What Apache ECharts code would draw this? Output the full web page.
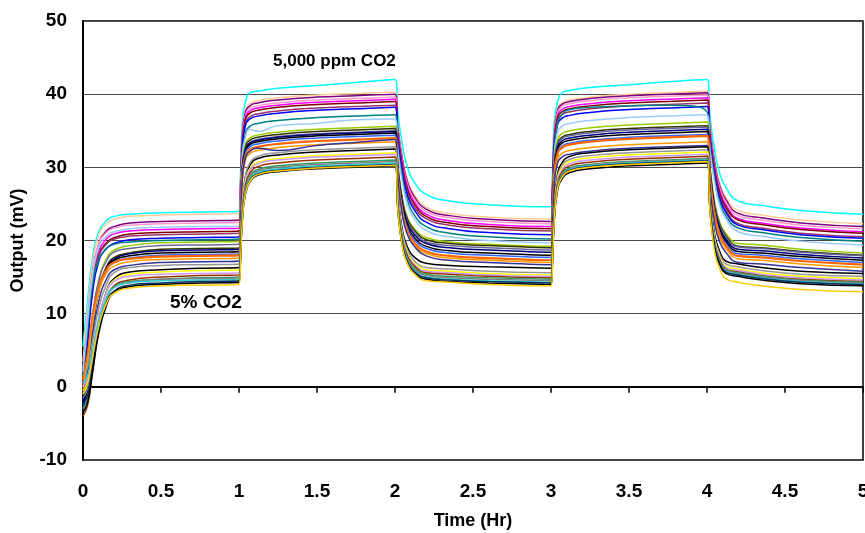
<!DOCTYPE html>
<html>
<head>
<meta charset="utf-8">
<script src="https://cdn.jsdelivr.net/npm/echarts/dist/echarts.min.js"></script>
<style>
  html, body { margin: 0; padding: 0; background: #fff; }
  #lineChart { width: 865px; height: 533px; }
</style>
</head>
<body>
<div id="lineChart"></div>
<script>
// sample times (hours), shared by all sensors
const hours = [0, 0.03, 0.06, 0.1, 0.15, 0.2, 0.3, 0.5, 0.75, 1.0,
  1.01, 1.02, 1.04, 1.07, 1.12, 1.25, 1.5, 1.75, 2.0,
  2.02, 2.05, 2.08, 2.12, 2.2, 2.35, 2.6, 3.0,
  3.01, 3.02, 3.04, 3.07, 3.12, 3.25, 3.5, 3.75, 4.0,
  4.02, 4.05, 4.08, 4.12, 4.2, 4.35, 4.6, 5.0]

// sensor outputs (mV)
const s01 = [5.5, 12.0, 17.5, 21.2, 22.7, 23.3, 23.6, 23.8, 23.9, 24.0,
  29.4, 35.7, 38.8, 40.2, 40.4, 40.8, 41.2, 41.6, 42.0,
  37.1, 32.8, 30.0, 28.1, 26.3, 25.4, 24.9, 24.6,
  29.8, 35.9, 38.8, 40.2, 40.5, 40.9, 41.3, 41.7, 42.0,
  36.8, 32.2, 29.3, 27.3, 25.4, 24.8, 24.1, 23.6]
const s02 = [3.5, 10.6, 16.6, 20.7, 22.3, 22.9, 23.3, 23.5, 23.6, 23.7,
  28.7, 34.5, 37.7, 38.7, 39.1, 39.5, 39.9, 40.1, 40.3,
  35.4, 31.1, 28.3, 26.4, 24.6, 23.7, 23.2, 22.9,
  28.2, 34.3, 37.8, 38.8, 39.2, 39.6, 40.0, 40.2, 40.4,
  35.3, 30.8, 27.9, 25.9, 24.1, 23.5, 22.8, 22.3]
const s03 = [1.0, 8.6, 15.2, 19.5, 21.3, 21.9, 22.4, 22.6, 22.7, 22.8,
  28.0, 34.0, 37.4, 38.4, 38.8, 39.2, 39.6, 39.8, 40.0,
  35.1, 30.8, 28.0, 26.1, 24.3, 23.4, 22.9, 22.6,
  27.9, 34.0, 37.6, 38.6, 39.0, 39.4, 39.8, 40.0, 40.2,
  35.1, 30.5, 27.6, 25.6, 23.7, 23.1, 22.4, 21.9]
const s04 = [2.5, 9.5, 15.5, 19.5, 21.1, 21.7, 22.1, 22.3, 22.4, 22.5,
  27.6, 33.6, 37.0, 38.0, 38.4, 38.8, 39.2, 39.4, 39.6,
  34.8, 30.4, 27.7, 25.8, 24.0, 23.1, 22.6, 22.3,
  27.6, 33.7, 37.3, 38.3, 38.7, 39.1, 39.5, 39.7, 39.9,
  34.8, 30.2, 27.3, 25.3, 23.4, 22.8, 22.1, 21.6]
const s05 = [0.5, 7.9, 14.3, 18.5, 20.2, 20.9, 21.3, 21.5, 21.6, 21.7,
  27.0, 33.1, 36.7, 37.7, 38.1, 38.5, 38.9, 39.1, 39.3,
  34.4, 30.1, 27.3, 25.4, 23.6, 22.7, 22.2, 21.9,
  27.2, 33.3, 36.9, 37.9, 38.3, 38.7, 39.1, 39.3, 39.5,
  34.4, 29.8, 26.9, 24.9, 23.0, 22.4, 21.7, 21.2]
const s06 = [-1.0, 6.8, 13.5, 18.0, 19.7, 20.4, 20.9, 21.1, 21.2, 21.3,
  26.6, 32.8, 36.4, 37.4, 37.8, 38.2, 38.6, 38.8, 39.0,
  34.1, 29.8, 27.0, 25.1, 23.3, 22.4, 21.9, 21.6,
  26.9, 33.0, 36.6, 37.6, 38.0, 38.4, 38.8, 39.0, 39.2,
  34.1, 29.6, 26.6, 24.6, 22.8, 22.2, 21.5, 21.0]
const s07 = [0.0, 7.4, 13.7, 17.9, 19.5, 20.2, 20.6, 20.8, 20.9, 21.0,
  26.3, 32.4, 35.9, 36.9, 37.3, 37.7, 38.1, 38.3, 38.5,
  33.7, 29.4, 26.6, 24.7, 23.0, 22.1, 21.6, 21.3,
  26.6, 32.7, 36.2, 37.2, 37.6, 38.0, 38.4, 38.6, 38.8,
  33.7, 29.1, 26.2, 24.2, 22.3, 21.7, 21.0, 20.5]
const s08 = [-2.0, 5.9, 12.6, 17.1, 18.9, 19.6, 20.1, 20.3, 20.4, 20.5,
  25.8, 32.0, 35.6, 36.6, 37.0, 37.4, 37.8, 38.0, 38.2,
  33.3, 29.0, 26.2, 24.3, 22.5, 21.6, 21.1, 20.8,
  26.1, 32.2, 35.7, 36.7, 37.1, 37.5, 37.9, 38.1, 38.3,
  33.3, 28.8, 25.9, 23.9, 22.1, 21.5, 20.8, 20.3]
const s09 = [1.5, 8.0, 13.7, 17.4, 18.9, 19.5, 19.8, 20.0, 20.1, 20.2,
  25.3, 31.3, 34.6, 35.6, 36.0, 36.4, 36.8, 37.0, 37.2,
  32.4, 28.2, 25.5, 23.6, 21.9, 21.0, 20.5, 20.2,
  25.4, 31.5, 35.8, 37.2, 37.9, 38.2, 38.4, 38.5, 37.6,
  32.6, 28.2, 25.4, 23.4, 21.7, 21.1, 20.4, 19.9]
const s10 = [2.0, 9.0, 15.0, 19.0, 20.6, 21.2, 21.6, 21.8, 21.9, 22.0,
  26.4, 31.5, 34.0, 35.2, 34.9, 35.7, 36.0, 36.5, 36.6,
  31.9, 27.6, 24.9, 23.1, 21.4, 20.5, 20.0, 19.7,
  25.0, 31.1, 34.6, 35.6, 36.0, 36.4, 36.8, 37.0, 37.2,
  32.2, 27.8, 24.9, 23.0, 21.2, 20.6, 19.9, 19.4]
const s11 = [-0.5, 3.6, 9.3, 14.4, 17.5, 18.7, 19.3, 19.7, 19.8, 19.9,
  24.6, 30.1, 33.0, 34.0, 34.4, 34.8, 35.2, 35.4, 35.6,
  30.0, 25.4, 23.1, 21.7, 20.4, 19.8, 19.5, 19.2,
  24.3, 30.3, 33.6, 34.6, 35.0, 35.4, 35.8, 36.0, 36.2,
  30.1, 25.1, 22.6, 21.0, 19.6, 19.4, 18.8, 18.3]
const s12 = [-3.0, 1.4, 7.6, 13.1, 16.4, 17.7, 18.3, 18.8, 18.9, 19.0,
  23.9, 29.6, 32.7, 33.7, 34.1, 34.5, 34.9, 35.1, 35.3,
  29.8, 25.2, 22.9, 21.5, 20.1, 19.6, 19.3, 19.0,
  24.0, 29.9, 33.1, 34.1, 34.5, 34.9, 35.3, 35.5, 35.7,
  29.7, 24.7, 22.3, 20.7, 19.2, 19.0, 18.5, 18.0]
const s13 = [0.5, 4.3, 9.6, 14.4, 17.2, 18.4, 18.9, 19.3, 19.4, 19.5,
  24.2, 29.6, 32.4, 33.4, 33.8, 34.2, 34.6, 34.8, 35.0,
  29.5, 24.9, 22.6, 21.2, 19.8, 19.3, 19.0, 18.7,
  23.7, 29.6, 32.9, 33.9, 34.3, 34.7, 35.1, 35.3, 35.5,
  29.5, 24.6, 22.1, 20.5, 19.1, 18.9, 18.4, 17.9]
const s14 = [-2.5, 1.8, 7.7, 13.1, 16.2, 17.5, 18.2, 18.6, 18.7, 18.8,
  23.6, 29.3, 32.3, 33.3, 33.7, 34.1, 34.5, 34.7, 34.9,
  29.3, 24.7, 22.4, 20.9, 19.6, 19.0, 18.7, 18.4,
  23.4, 29.3, 32.6, 33.6, 34.0, 34.4, 34.8, 35.0, 35.2,
  29.2, 24.3, 21.8, 20.2, 18.8, 18.6, 18.1, 17.6]
const s15 = [-1.5, 2.5, 8.1, 13.1, 16.1, 17.3, 17.9, 18.3, 18.4, 18.5,
  23.4, 29.0, 32.1, 33.1, 33.5, 33.9, 34.3, 34.5, 34.7,
  29.0, 24.4, 22.0, 20.5, 19.2, 18.6, 18.3, 18.0,
  23.1, 29.0, 32.3, 33.3, 33.7, 34.1, 34.5, 34.7, 34.9,
  28.9, 24.0, 21.5, 19.9, 18.5, 18.3, 17.8, 17.3]
const s16 = [-1.0, 2.8, 8.2, 13.0, 15.9, 17.0, 17.6, 18.0, 18.1, 18.2,
  23.1, 28.7, 31.8, 32.8, 33.2, 33.6, 34.0, 34.2, 34.4,
  28.7, 24.0, 21.7, 20.2, 18.9, 18.3, 18.0, 17.7,
  22.7, 28.6, 31.9, 32.9, 33.3, 33.7, 34.1, 34.3, 34.5,
  28.6, 23.7, 21.2, 19.6, 18.2, 18.0, 17.5, 17.0]
const s17 = [1.0, 4.4, 9.2, 13.4, 16.0, 17.0, 17.5, 17.8, 17.9, 18.0,
  22.8, 28.4, 31.4, 32.4, 32.8, 33.2, 33.6, 33.8, 34.0,
  28.3, 23.6, 21.3, 19.8, 18.5, 17.9, 17.6, 17.3,
  22.4, 28.4, 31.7, 32.7, 33.1, 33.5, 33.9, 34.1, 34.3,
  28.3, 23.4, 20.9, 19.3, 17.9, 17.7, 17.2, 16.7]
const s18 = [0.0, 3.5, 8.4, 12.8, 15.5, 16.5, 17.1, 17.4, 17.5, 17.6,
  22.4, 27.9, 30.9, 31.9, 32.3, 32.7, 33.1, 33.3, 33.5,
  27.9, 23.3, 21.0, 19.5, 18.2, 17.6, 17.3, 17.0,
  22.0, 27.7, 30.9, 31.9, 32.3, 32.7, 33.1, 33.3, 33.5,
  27.7, 22.8, 20.4, 18.9, 17.5, 17.3, 16.8, 16.3]
const s19 = [-3.5, 0.6, 6.4, 11.6, 14.7, 16.0, 16.6, 17.0, 17.1, 17.2,
  22.2, 28.0, 31.2, 32.2, 32.6, 32.3, 33.0, 33.4, 33.8,
  28.0, 23.2, 20.8, 19.3, 17.9, 17.3, 17.0, 16.7,
  21.6, 27.3, 30.4, 31.4, 31.8, 32.2, 32.6, 32.8, 33.0,
  27.2, 22.3, 19.9, 18.4, 17.0, 16.8, 16.3, 15.8]
const s20 = [-2.0, -0.5, 3.5, 9.0, 13.0, 14.8, 15.7, 16.0, 16.2, 16.3,
  19.5, 24.4, 28.5, 30.3, 31.2, 31.7, 32.1, 32.3, 32.5,
  26.0, 21.1, 19.1, 17.8, 16.9, 16.6, 16.4, 16.2,
  19.5, 24.5, 28.8, 30.6, 31.5, 32.0, 32.4, 32.6, 32.8,
  25.9, 20.7, 18.6, 17.2, 16.8, 16.3, 15.8, 15.5]
const s21 = [1.5, 2.7, 6.1, 10.7, 14.0, 15.6, 16.3, 16.6, 16.7, 16.8,
  20.0, 24.8, 28.8, 30.6, 31.5, 32.0, 32.4, 32.6, 32.8,
  25.9, 20.8, 18.7, 17.3, 16.3, 16.1, 15.8, 15.6,
  19.0, 24.0, 28.4, 30.2, 31.1, 31.6, 32.0, 32.2, 32.4,
  25.5, 20.3, 18.2, 16.8, 16.4, 15.9, 15.4, 15.1]
const s22 = [-1.0, 0.4, 4.1, 9.2, 12.9, 14.6, 15.4, 15.7, 15.9, 16.0,
  19.2, 24.0, 28.0, 29.8, 30.7, 31.2, 31.6, 31.8, 32.0,
  25.3, 20.3, 18.3, 17.0, 16.0, 15.8, 15.5, 15.3,
  18.7, 23.7, 28.1, 29.9, 30.8, 31.3, 31.7, 31.9, 32.1,
  25.2, 20.0, 17.9, 16.5, 16.1, 15.6, 15.1, 14.8]
const s23 = [0.0, 1.2, 4.7, 9.4, 12.8, 14.4, 15.1, 15.4, 15.5, 15.6,
  18.8, 23.7, 27.8, 29.6, 30.5, 31.0, 31.4, 31.6, 31.8,
  25.1, 20.1, 18.1, 16.8, 15.8, 15.6, 15.3, 15.1,
  18.4, 23.5, 27.8, 29.6, 30.5, 31.0, 31.4, 31.6, 31.8,
  24.9, 19.8, 17.7, 16.3, 15.9, 15.4, 14.9, 14.6]
const s24 = [-4.0, -2.5, 1.8, 7.6, 11.8, 13.8, 14.6, 15.0, 15.2, 15.3,
  18.5, 23.4, 27.4, 29.2, 30.1, 30.6, 31.0, 31.2, 31.4,
  24.8, 19.9, 17.9, 16.6, 15.6, 15.4, 15.1, 14.9,
  18.2, 23.2, 27.5, 29.3, 30.2, 30.7, 31.1, 31.3, 31.5,
  24.7, 19.5, 17.5, 16.1, 15.7, 15.2, 14.7, 14.4]
const s25 = [-3.0, -1.6, 2.4, 7.8, 11.8, 13.6, 14.4, 14.7, 14.9, 15.0,
  18.2, 23.0, 27.0, 28.8, 29.7, 30.2, 30.6, 30.8, 31.0,
  24.5, 19.6, 17.6, 16.3, 15.4, 15.1, 14.9, 14.7,
  18.0, 23.0, 27.2, 29.0, 29.9, 30.4, 30.8, 31.0, 31.2,
  24.4, 19.4, 17.3, 16.0, 15.6, 15.1, 14.6, 14.3]
const s26 = [-1.5, -0.2, 3.4, 8.3, 12.0, 13.6, 14.3, 14.7, 14.8, 14.9,
  18.1, 22.9, 26.8, 28.6, 29.5, 30.0, 30.4, 30.6, 30.8,
  24.3, 19.4, 17.4, 16.1, 15.2, 14.9, 14.7, 14.5,
  17.8, 22.8, 27.1, 28.9, 29.8, 30.3, 30.7, 30.9, 31.1,
  24.3, 19.3, 17.2, 15.9, 15.5, 15.0, 14.5, 14.2]
const s27 = [0.5, 1.6, 4.8, 9.0, 12.1, 13.6, 14.2, 14.5, 14.6, 14.7,
  17.9, 22.7, 26.6, 28.4, 29.3, 29.8, 30.2, 30.4, 30.6,
  24.1, 19.2, 17.2, 15.9, 15.0, 14.7, 14.5, 14.3,
  17.6, 22.7, 27.0, 28.8, 29.7, 30.2, 30.6, 30.8, 31.0,
  24.2, 19.2, 17.1, 15.8, 15.4, 14.9, 14.4, 14.1]
const s28 = [-2.5, -1.1, 2.6, 7.7, 11.4, 13.1, 13.9, 14.2, 14.4, 14.5,
  17.7, 22.5, 26.4, 28.2, 29.1, 29.6, 30.0, 30.2, 30.4,
  23.9, 19.1, 17.1, 15.8, 14.9, 14.6, 14.4, 14.2,
  17.5, 22.6, 26.9, 28.7, 29.6, 30.1, 30.5, 30.7, 30.9,
  24.1, 19.1, 17.0, 15.7, 15.3, 14.8, 14.3, 14.0]
const s29 = [-3.5, -2.1, 1.8, 7.2, 11.1, 12.9, 13.7, 14.0, 14.2, 14.3,
  17.5, 22.3, 26.2, 28.0, 28.9, 29.4, 29.8, 30.0, 30.2,
  23.7, 18.9, 16.9, 15.6, 14.7, 14.4, 14.2, 14.0,
  17.3, 22.3, 26.6, 28.4, 29.3, 29.8, 30.2, 30.4, 30.6,
  23.9, 18.8, 16.8, 15.5, 15.1, 14.6, 14.1, 13.8]
const s30 = [-0.5, 0.7, 3.9, 8.2, 11.4, 12.8, 13.5, 13.8, 13.9, 14.0,
  17.3, 22.2, 26.3, 28.1, 29.0, 29.5, 29.9, 30.1, 30.3,
  23.7, 18.8, 16.8, 15.5, 14.5, 14.3, 14.0, 13.8,
  17.2, 22.3, 26.8, 28.6, 29.5, 30.0, 30.4, 30.6, 30.8,
  23.7, 18.3, 16.2, 14.8, 14.3, 13.8, 13.3, 13.0]

const sensors = [s01, s02, s03, s04, s05, s06, s07, s08, s09, s10,
  s11, s12, s13, s14, s15, s16, s17, s18, s19, s20,
  s21, s22, s23, s24, s25, s26, s27, s28, s29, s30]

const lineColors = ['#00FFFF', '#FFCC99', '#800080', '#FF99CC', '#FF00FF', '#800000', '#993366', '#0000FF', '#008080', '#99CCFF',
  '#99CC00', '#333300', '#666699', '#000080', '#000000', '#3366FF', '#FF6600', '#FF9900', '#333399', '#000000',
  '#969696', '#FFFF00', '#CC99FF', '#993300', '#339966', '#808080', '#33CCCC', '#003366', '#000000', '#FFCC00']

const xTicks = [0, 0.5, 1, 1.5, 2, 2.5, 3, 3.5, 4, 4.5, 5]
const yTicks = [-10, 0, 10, 20, 30, 40, 50]

const fontName = 'Liberation Sans, Arial, sans-serif'

let series = sensors.map((vals, i) => ({
  type: 'line',
  data: vals.map((v, k) => [hours[k], v]),
  showSymbol: false,
  smooth: 0.5,
  silent: true,
  z: 3,
  lineStyle: {
    color: lineColors[i],
    width: lineColors[i] === '#FF6600' ? 2.2 : 1.5,
  },
}))

let option = {
  animation: false,
  backgroundColor: '#fff',
  grid: {
    left: 83,
    right: 2,
    top: 21,
    bottom: 73,
    outerBoundsMode: 'none',
    show: true,
    borderColor: '#000',
    borderWidth: 1.5,
  },
  xAxis: {
    type: 'value',
    min: xTicks[0],
    max: xTicks[xTicks.length - 1],
    interval: 0.5,
    name: 'Time (Hr)',
    nameLocation: 'middle',
    nameGap: 52,
    nameTextStyle: { color: '#000', fontSize: 18, fontWeight: 'bold', fontFamily: fontName },
    axisLine: { show: true, lineStyle: { color: '#000', width: 2 } },
    axisTick: { show: true, inside: false, length: 6, lineStyle: { color: '#000', width: 1.5 } },
    axisLabel: { color: '#000', fontSize: 19, fontWeight: 'bold', fontFamily: fontName, margin: 22 },
    splitLine: { show: false },
  },
  yAxis: {
    type: 'value',
    min: yTicks[0],
    max: yTicks[yTicks.length - 1],
    interval: 10,
    name: 'Output (mV)',
    nameLocation: 'middle',
    nameGap: 56,
    nameTextStyle: { color: '#000', fontSize: 18, fontWeight: 'bold', fontFamily: fontName },
    axisLine: { show: true, lineStyle: { color: '#000', width: 2 } },
    axisTick: { show: false },
    axisLabel: { color: '#000', fontSize: 19, fontWeight: 'bold', fontFamily: fontName, margin: 16 },
    splitLine: { show: true, lineStyle: { color: '#4a4a4a', width: 1 } },
  },
  graphic: [
    {
      type: 'text',
      left: 273,
      top: 53,
      style: { text: '5,000 ppm CO2', fill: '#000', font: 'bold 17px ' + fontName },
      z: 10,
    },
    {
      type: 'text',
      left: 170,
      top: 293,
      style: { text: '5% CO2', fill: '#000', font: 'bold 19px ' + fontName },
      z: 10,
    },
  ],
  series: series,
}

let myChart = echarts.init(document.getElementById('lineChart'))
myChart.setOption(option)
</script>
</body>
</html>
